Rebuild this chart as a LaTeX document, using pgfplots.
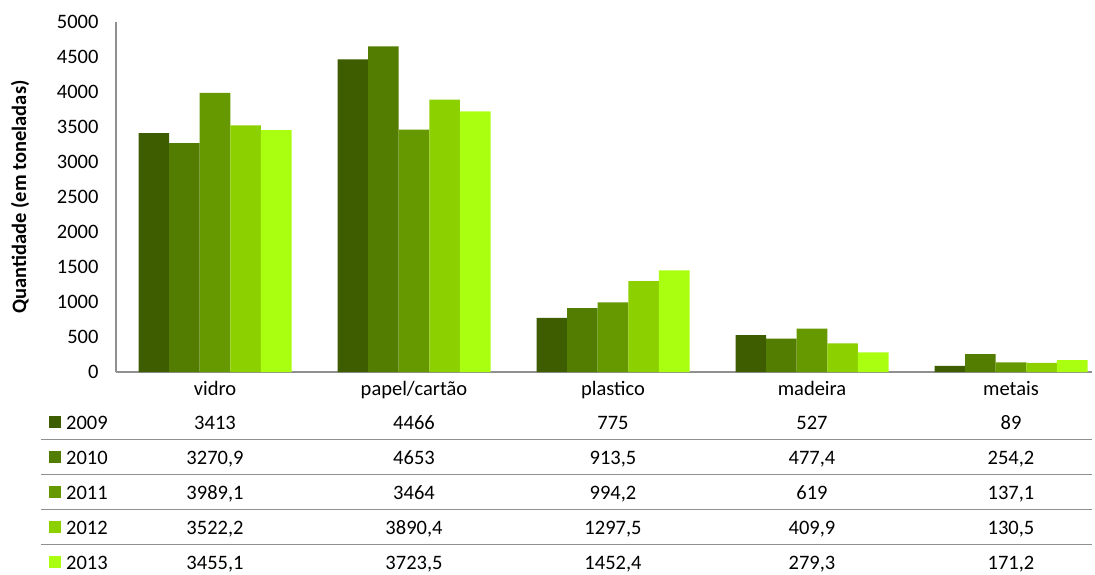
\documentclass[border=0pt]{standalone}
\usepackage{pgfplots}
\pgfplotsset{compat=1.18}
\usepackage{pgfplotstable}
\usepackage{fontspec}
\setmainfont{Carlito}

\definecolor{c09}{HTML}{3E5C00}
\definecolor{c10}{HTML}{527D00}
\definecolor{c11}{HTML}{669900}
\definecolor{c12}{HTML}{8CD000}
\definecolor{c13}{HTML}{AAFF11}
\definecolor{axgray}{HTML}{909090}

% x: 0 vidro, 1 papel/cartao, 2 plastico, 3 madeira, 4 metais
\pgfplotstableread{
x y
0 3413
1 4466
2 775
3 527
4 89
}\tA
\pgfplotstableread{
x y
0 3270.9
1 4653
2 913.5
3 477.4
4 254.2
}\tB
\pgfplotstableread{
x y
0 3989.1
1 3464
2 994.2
3 619
4 137.1
}\tC
\pgfplotstableread{
x y
0 3522.2
1 3890.4
2 1297.5
3 409.9
4 130.5
}\tD
\pgfplotstableread{
x y
0 3455.1
1 3723.5
2 1452.4
3 279.3
4 171.2
}\tE

\newcommand{\fs}{\fontsize{20.5}{24}\selectfont}

\begin{document}
\begin{tikzpicture}
\useasboundingbox (-116pt,-202pt) rectangle (979pt,372pt);
\begin{axis}[
    scale only axis,
    width=976pt, height=350pt,
    xmin=-0.4975, xmax=4.407,
    ymin=0, ymax=5000,
    clip=false,
    axis lines*=left,
    axis line style={axgray, line width=1.3pt, -},
    major tick length=0pt,
    ytick={0,500,...,5000},
    xtick={0,1,2,3,4},
    xticklabels={vidro, papel/cartão, plastico, madeira, metais},
    xticklabel style={anchor=base, yshift=-23pt, font=\fs},
    yticklabel style={anchor=east, xshift=-14pt, font=\fs},
    every axis y label/.style={at={(axis description cs:-0.0984,0.5)}, rotate=90, anchor=center, font=\fs\bfseries},
    ylabel={Quantidade (em toneladas)},
    /pgf/number format/.cd, use comma, 1000 sep={}, assume math mode=true,
]
\addplot[ybar, bar width=30.6pt, bar shift=-61.2pt, fill=c09, draw=none] table {\tA};
\addplot[ybar, bar width=30.6pt, bar shift=-30.6pt, fill=c10, draw=none] table {\tB};
\addplot[ybar, bar width=30.6pt, bar shift=0pt,     fill=c11, draw=none] table {\tC};
\addplot[ybar, bar width=30.6pt, bar shift=30.6pt,  fill=c12, draw=none] table {\tD};
\addplot[ybar, bar width=30.6pt, bar shift=61.2pt,  fill=c13, draw=none] table {\tE};

% data table rows under the chart
\addplot[draw=none, no markers, point meta=explicit, nodes near coords,
    every node near coord/.append style={anchor=base, font=\fs, text=black}]
    table[x=x, y expr=-814.3, meta=y] {\tA};
\addplot[draw=none, no markers, point meta=explicit, nodes near coords,
    every node near coord/.append style={anchor=base, font=\fs, text=black}]
    table[x=x, y expr=-1314.3, meta=y] {\tB};
\addplot[draw=none, no markers, point meta=explicit, nodes near coords,
    every node near coord/.append style={anchor=base, font=\fs, text=black}]
    table[x=x, y expr=-1814.3, meta=y] {\tC};
\addplot[draw=none, no markers, point meta=explicit, nodes near coords,
    every node near coord/.append style={anchor=base, font=\fs, text=black}]
    table[x=x, y expr=-2314.3, meta=y] {\tD};
\addplot[draw=none, no markers, point meta=explicit, nodes near coords,
    every node near coord/.append style={anchor=base, font=\fs, text=black}]
    table[x=x, y expr=-2814.3, meta=y] {\tE};
\end{axis}

% table rules and legend keys
\foreach \yy in {-67.5,-102.5,-137.5,-172.5}
  \draw[axgray, line width=1.3pt] (-75pt,\yy pt) -- (976pt,\yy pt);
\foreach \c/\lab [count=\i from 0] in {c09/2009,c10/2010,c11/2011,c12/2012,c13/2013}{
  \fill[\c] (-67pt,{-56pt-35pt*\i}) rectangle (-55pt,{-44pt-35pt*\i});
  \node[anchor=base west, inner sep=0pt, font=\fs] at (-50pt,{-57pt-35pt*\i}) {\lab};
}
\end{tikzpicture}
\end{document}
